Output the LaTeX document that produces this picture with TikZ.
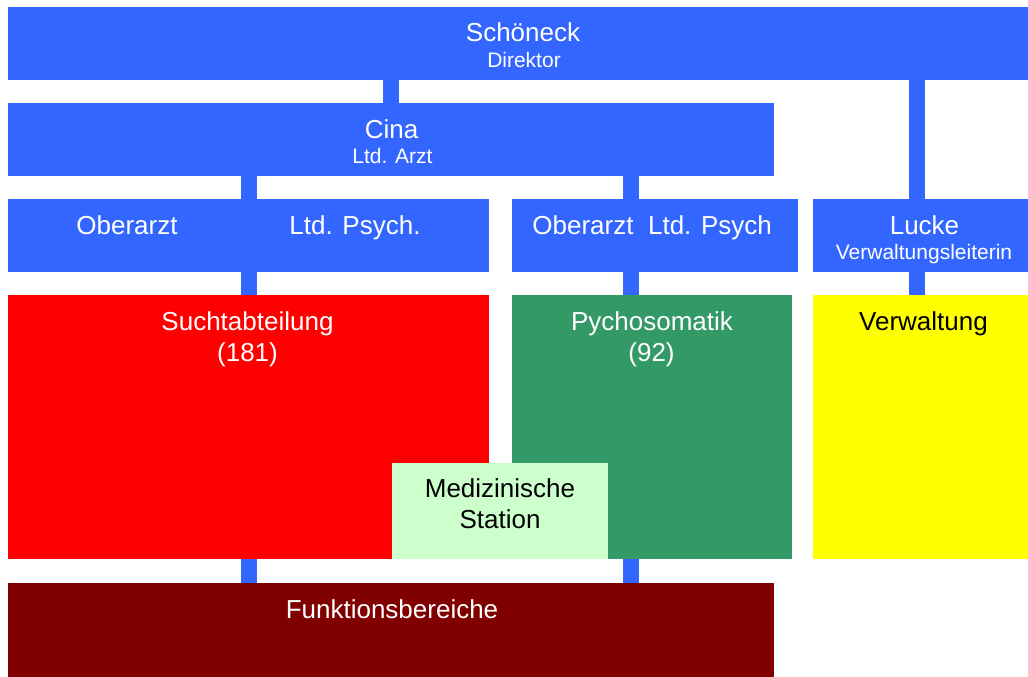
\documentclass[tikz,border=0pt]{standalone}
\usepackage{fontspec}
\setmainfont{Liberation Sans}
\definecolor{orgblue}{HTML}{3366FF}
\definecolor{suchtred}{HTML}{FF0000}
\definecolor{psygreen}{HTML}{339966}
\definecolor{verwyellow}{HTML}{FFFF00}
\definecolor{medgreen}{HTML}{CCFFCC}
\definecolor{funkred}{HTML}{800000}
\tikzset{
  box/.style={rectangle, inner sep=0pt, outer sep=0pt, draw=none, anchor=north west},
  conn/.style={draw=orgblue, line width=16pt},
  big/.style={anchor=base, inner sep=0pt, text=white, font=\fontsize{26}{30}\selectfont},
  small/.style={anchor=base, inner sep=0pt, text=white, font=\fontsize{21}{25}\selectfont},
}
\begin{document}
\begin{tikzpicture}[x=1pt,y=-1pt]
\useasboundingbox (0,0) rectangle (1028,677);

% boxes
\node[box, fill=orgblue, minimum width=1020pt, minimum height=73pt] (top) at (8,7) {};
\node[box, fill=orgblue, minimum width=766pt, minimum height=73pt] (cina) at (8,103) {};
\node[box, fill=orgblue, minimum width=481pt, minimum height=73pt] (sleit) at (8,199) {};
\node[box, fill=orgblue, minimum width=286pt, minimum height=73pt] (pleit) at (512,199) {};
\node[box, fill=orgblue, minimum width=215pt, minimum height=73pt] (lucke) at (813,199) {};
\node[box, fill=suchtred, minimum width=481pt, minimum height=264pt] (sucht) at (8,295) {};
\node[box, fill=psygreen, minimum width=280pt, minimum height=264pt] (psy) at (512,295) {};
\node[box, fill=verwyellow, minimum width=215pt, minimum height=264pt] (verw) at (813,295) {};
\node[box, fill=medgreen, minimum width=216pt, minimum height=96pt] (med) at (392,463) {};
\node[box, fill=funkred, minimum width=766pt, minimum height=94pt] (funk) at (8,583) {};

% connectors between the levels
\draw[conn] (cina.north) -- (cina.north |- top.south);
\draw[conn] ([xshift=-4pt]lucke.north) -- ([xshift=-4pt]lucke.north |- top.south);
\draw[conn] (sleit.north) -- (sleit.north |- cina.south);
\draw[conn] ([xshift=-24pt]pleit.north) -- ([xshift=-24pt]pleit.north |- cina.south);
\draw[conn] (sleit.south) -- (sleit.south |- sucht.north);
\draw[conn] ([xshift=-24pt]pleit.south) -- ([xshift=-24pt]pleit.south |- psy.north);
\draw[conn] ([xshift=-4pt]lucke.south) -- ([xshift=-4pt]lucke.south |- verw.north);
\draw[conn] (sleit.south |- sucht.south) -- (sleit.south |- funk.north);
\draw[conn] ([xshift=-24pt]pleit.south |- psy.south) -- ([xshift=-24pt]pleit.south |- funk.north);

% labels
\node[big] (tname) at (523,42) {Schöneck};
\node[small] (trole) at (524,67) {Direktor};
\node[big] (cname) at (391.5,138) {Cina};
\node[small] (crole) at (392.5,163) {Ltd. Arzt};
\node[big] (oa1) at (127,234) {Oberarzt};
\node[big] (lp1) at (355,234) {Ltd. Psych.};
\node[big] (oa2) at (583,234) {Oberarzt};
\node[big] (lp2) at (710,234) {Ltd. Psych};
\node[big] (lname) at (924.5,234) {Lucke};
\node[small] (lrole) at (924,259) {Verwaltungsleiterin};
\node[big] (stitle) at (247.5,330) {Suchtabteilung};
\node[big] (snum) at (247.5,361) {(181)};
\node[big] (ptitle) at (652,330) {Pychosomatik};
\node[big] (pnum) at (651.5,361) {(92)};
\node[big, text=black] (vtitle) at (923.5,330) {Verwaltung};
\node[big, text=black] (mtitle1) at (500,497) {Medizinische};
\node[big, text=black] (mtitle2) at (500,528) {Station};
\node[big] (ftitle) at (392,618) {Funktionsbereiche};
\end{tikzpicture}
\end{document}
